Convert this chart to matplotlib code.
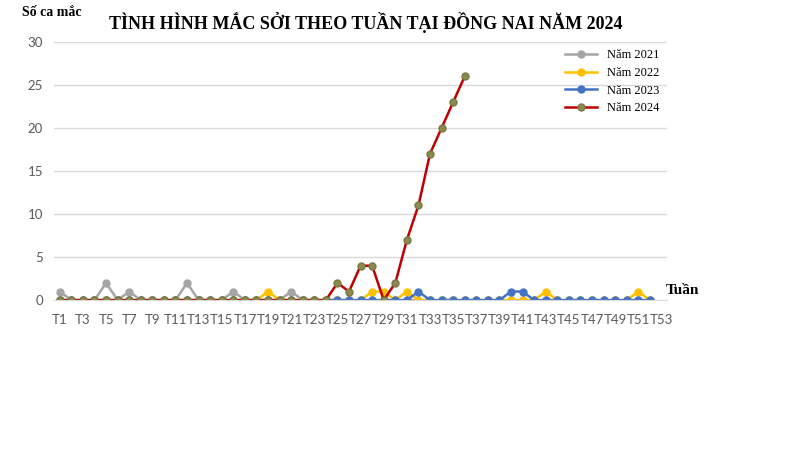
import matplotlib.pyplot as plt
import numpy as np

plt.rcParams['font.family'] = ['Liberation Serif', 'DejaVu Serif']

# du lieu so ca mac theo tuan
weeks_full = list(range(1, 53))
cases_2021 = [1, 0, 0, 0, 2, 0, 1, 0, 0, 0, 0, 2, 0, 0, 0, 1, 0, 0, 0, 0,
              1, 0, 0, 0, 0, 0, 0, 0, 0, 0, 0, 0, 0, 0, 0, 0, 0, 0, 0, 0,
              0, 0, 0, 0, 0, 0, 0, 0, 0, 0, 0, 0]
cases_2022 = [0, 0, 0, 0, 0, 0, 0, 0, 0, 0, 0, 0, 0, 0, 0, 0, 0, 0, 1, 0,
              0, 0, 0, 0, 0, 0, 0, 1, 1, 0, 1, 0, 0, 0, 0, 0, 0, 0, 0, 0,
              0, 0, 1, 0, 0, 0, 0, 0, 0, 0, 1, 0]
cases_2023 = [0, 0, 0, 0, 0, 0, 0, 0, 0, 0, 0, 0, 0, 0, 0, 0, 0, 0, 0, 0,
              0, 0, 0, 0, 0, 0, 0, 0, 0, 0, 0, 1, 0, 0, 0, 0, 0, 0, 0, 1,
              1, 0, 0, 0, 0, 0, 0, 0, 0, 0, 0, 0]
weeks_2024 = list(range(1, 37))
cases_2024 = [0, 0, 0, 0, 0, 0, 0, 0, 0, 0, 0, 0, 0, 0, 0, 0, 0, 0, 0, 0,
              0, 0, 0, 0, 2, 1, 4, 4, 0, 2, 7, 11, 17, 20, 23, 26]

tick_weeks = list(range(1, 54, 2))
tick_labels = [f'T{w}' for w in tick_weeks]

fig = plt.figure(figsize=(8, 4.5), dpi=100)
ax = fig.add_axes([0.0675, 0.333, 0.7665, 0.574])

ax.plot(weeks_full, cases_2021, color='#A5A5A5', lw=1.8, marker='o', ms=5, label='Năm 2021')
ax.plot(weeks_full, cases_2022, color='#FFC000', lw=1.8, marker='o', ms=5, label='Năm 2022')
ax.plot(weeks_full, cases_2023, color='#4472C4', lw=1.8, marker='o', ms=5, label='Năm 2023')
ax.plot(weeks_2024, cases_2024, color='#C00000', lw=1.8, marker='o', ms=5,
        mfc='#8C8A4E', mec='#7A7842', label='Năm 2024')

ax.set_xlim(0.5, 53.5)
ax.set_ylim(0, 30)
ax.set_yticks(range(0, 31, 5))
ax.set_xticks(tick_weeks)
ax.set_xticklabels(tick_labels)
ax.grid(axis='y', color='#D9D9D9', lw=1)
ax.set_axisbelow(True)
for s in ['top', 'right', 'left']:
    ax.spines[s].set_visible(False)
ax.spines['bottom'].set_color('#D9D9D9')
ax.tick_params(length=0, colors='#595959', labelsize=9.5)
for lbl in ax.get_xticklabels() + ax.get_yticklabels():
    lbl.set_family(['Lato', 'DejaVu Sans'])
ax.tick_params(axis='x', pad=10)
ax.tick_params(axis='y', pad=8)

fig.text(0.457, 0.95, 'TÌNH HÌNH MẮC SỞI THEO TUẦN TẠI ĐỒNG NAI NĂM 2024',
         ha='center', va='center', fontsize=13, fontweight='bold')
fig.text(0.028, 0.972, 'Số ca mắc', ha='left', va='center', fontsize=10, fontweight='bold')
fig.text(0.832, 0.355, 'Tuần', ha='left', va='center', fontsize=11, fontweight='bold')

ax.legend(loc='upper right', bbox_to_anchor=(1.0, 1.0), frameon=False, fontsize=9,
          handlelength=2.6, labelspacing=0.45, borderaxespad=0.2)

fig.savefig('out.png', dpi=100)
